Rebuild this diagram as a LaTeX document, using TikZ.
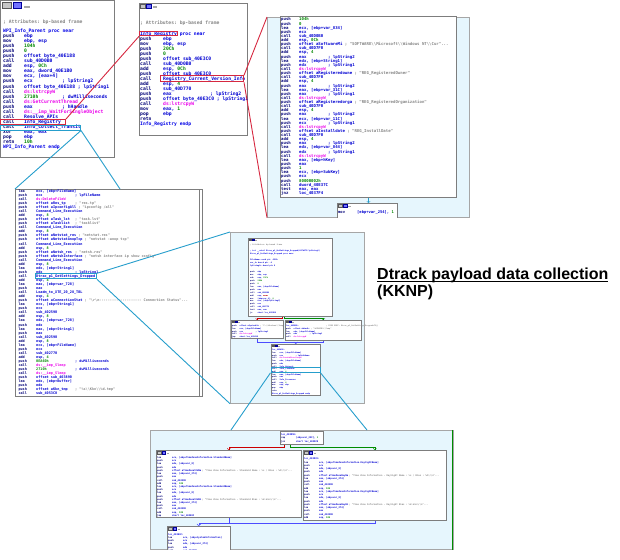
\documentclass[tikz,border=0pt]{standalone}
\usepackage{fontspec}
\setmainfont{Liberation Sans}
\setmonofont{DejaVu Sans Mono}

\definecolor{mnc}{RGB}{0,0,120}
\definecolor{opc}{RGB}{0,0,210}
\definecolor{numc}{RGB}{0,135,0}
\definecolor{impc}{RGB}{235,0,235}
\definecolor{cmc}{RGB}{135,135,135}
\definecolor{lblc}{RGB}{0,0,230}
\definecolor{frame}{RGB}{125,125,125}
\definecolor{graphbg}{RGB}{230,246,253}
\definecolor{zcyan}{RGB}{38,158,204}
\definecolor{zred}{RGB}{214,40,64}
\definecolor{hlred}{RGB}{190,20,30}

\newlength\mnw
\newlength\cmw
\newsavebox\opbox
\newsavebox\tulbox
\newcommand\asmn[1]{\textcolor{numc}{#1}}
\newcommand\asmi[1]{\textcolor{impc}{#1}}
\newcommand\asm[2]{\makebox[\mnw][l]{\textcolor{mnc}{#1}}\textcolor{opc}{#2}}
\newcommand\asmcm[4]{\makebox[\mnw][l]{\textcolor{mnc}{#1}}\sbox\opbox{\textcolor{opc}{#2}}%
  \ifdim\wd\opbox<\cmw\makebox[\cmw][l]{\usebox\opbox}\else\usebox\opbox\ \fi\textcolor{#4}{; #3}}
\newcommand\asmc[3]{\asmcm{#1}{#2}{#3}{opc}}
\newcommand\asms[3]{\asmcm{#1}{#2}{#3}{cmc}}
\newcommand\redhl[1]{{\setlength\fboxsep{0pt}\colorbox{hlred}{\textcolor{white}{#1}}}}
\newcommand\tul[1]{\sbox\tulbox{#1}\rlap{\usebox\tulbox}\rule[-2.8pt]{\wd\tulbox}{1.1pt}}
\newcommand\titlebar[2]{%
  \begin{scope}[shift={(#1.north west)}, scale=#2]
    \filldraw[fill=gray!45, draw=gray!70!black, line width=0.2pt] (1.5,1.5) rectangle (6.5,5);
    \filldraw[fill=blue!55, draw=blue!60!black, line width=0.2pt] (7.5,1.5) rectangle (12.5,5);
    \fill[gray!70] (14,3.5) rectangle (17.5,5);
  \end{scope}}

\begin{document}
\begin{tikzpicture}[x=1pt, y=-1pt,
  win/.style={draw=frame, line width=1.1pt, fill=white, anchor=north west, inner sep=0pt},
  blk/.style={draw=frame, line width=0.6pt, fill=white, anchor=north west, inner sep=0pt},
  graph/.style={draw=gray!70, line width=0.7pt, fill=graphbg, anchor=north west, inner sep=0pt},
  hlr/.style={draw=zred, line width=1pt, anchor=north west, inner sep=0pt},
  hlc/.style={draw=zcyan, line width=1pt, anchor=north west, inner sep=0pt},
  zoomr/.style={draw=zred, line width=0.9pt},
  zoomc/.style={draw=zcyan, line width=0.9pt},
  redge/.style={->, draw=red!80!black, line width=0.4pt},
  gedge/.style={->, draw=green!55!black, line width=0.4pt},
  bedge/.style={draw=blue!70, line width=0.6pt},
  asmtext/.style n args={4}{anchor=north west, inner sep=0pt, align=left,
    font={\ttfamily\bfseries\fontsize{#1}{#2}\selectfont\lineskiplimit=-20pt\setlength\mnw{#3}\setlength\cmw{#4}}},
  heading/.style={anchor=north west, inner sep=0pt, align=left, font=\fontsize{16}{17}\selectfont\bfseries}]

\useasboundingbox (0,0) rectangle (620,559);

% top left: WPI_Info_Parent
\node[win, minimum width=114pt, minimum height=157pt] (wpi) at (0,0) {};
\titlebar{wpi}{1.7}
\node[asmtext={4.7}{5.04}{21pt}{38pt}] (wpiattr) at (3,19.1) {\textcolor{cmc}{; Attributes: bp-based frame}};
\node[asmtext={4.7}{5.04}{21pt}{38pt}] (wpicode) at (3,28.8) {%
\textcolor{lblc}{WPI\_Info\_Parent proc near}\\
\asm{push}{ebp}\\
\asm{mov}{ebp, esp}\\
\asm{push}{\asmn{104h}}\\
\asm{push}{\asmn{0}}\\
\asm{push}{offset byte\_40E188}\\
\asm{call}{sub\_40D0B0}\\
\asm{add}{esp, \asmn{0Ch}}\\
\asm{mov}{eax, dword\_40E1B0}\\
\asm{mov}{ecx, [eax+4]}\\
\asmc{push}{ecx}{lpString2}\\
\asmc{push}{offset byte\_40E188}{lpString1}\\
\asm{call}{\asmi{ds:lstrcpyW}}\\
\asmc{push}{\asmn{2710h}}{dwMilliseconds}\\
\asm{call}{\asmi{ds:GetCurrentThread}}\\
\asmc{push}{eax}{hHandle}\\
\asm{call}{\asmi{ds:\_\_imp\_WaitForSingleObject}}\\
\asm{call}{Resolve\_APIs}\\
\asm{call}{Info\_Registry}\\
\asm{call}{Info\_Collect\_Transit}\\
\asm{xor}{eax, eax}\\
\asm{pop}{ebp}\\
\asm{retn}{\asmn{10h}}\\
\textcolor{lblc}{WPI\_Info\_Parent endp}};
\node[hlr, minimum width=65pt, minimum height=5.3pt] (callreg) at (0,119) {};
\node[hlc, minimum width=80pt, minimum height=5pt] (calltransit) at (0,124.5) {};

% top middle: Info_Registry
\node[win, minimum width=108pt, minimum height=132pt] (reg) at (139,3) {};
\titlebar{reg}{1}
\node[asmtext={4.7}{5.0}{23pt}{47pt}] (regattr) at (140,20.1) {\textcolor{cmc}{; Attributes: bp-based frame}};
\node[asmtext={4.7}{5.0}{23pt}{47pt}] (regcode) at (140,31.1) {%
\textcolor{lblc}{Info\_Registry proc near}\\
\asm{push}{ebp}\\
\asm{mov}{ebp, esp}\\
\asm{push}{\asmn{20Ch}}\\
\asm{push}{\asmn{0}}\\
\asm{push}{offset sub\_40E3C0}\\
\asm{call}{sub\_40D0B0}\\
\asm{add}{esp, \asmn{0Ch}}\\
\asm{push}{offset sub\_40E3C0}\\
\asm{call}{Registry\_Current\_Version\_Info}\\
\asm{add}{esp, \asmn{4}}\\
\asm{call}{sub\_40D770}\\
\asmc{push}{eax}{lpString2}\\
\asmc{push}{offset byte\_40E3C0}{lpString1}\\
\asm{call}{\asmi{ds:lstrcpyW}}\\
\asm{mov}{eax, \asmn{1}}\\
\asm{pop}{ebp}\\
\asm{retn}{}\\
\textcolor{lblc}{Info\_Registry endp}};
\node[hlr, minimum width=38pt, minimum height=4.6pt] (regname) at (139,30.7) {};
\node[hlr, minimum width=83pt, minimum height=6pt] (regcurrent) at (160,75.3) {};

% top right: Registry_Current_Version_Info
\node[graph, minimum width=202pt, minimum height=200pt] (infobg) at (267,17) {};
\node[win, minimum width=176pt, minimum height=181pt] (info) at (280,16) {};
\node[asmtext={4.0}{4.13}{18pt}{29pt}] (infocode) at (281,17.7) {%
\asm{push}{\asmn{104h}}\\
\asm{push}{\asmn{0}}\\
\asm{lea}{ecx, [ebp+var\_834]}\\
\asm{push}{ecx}\\
\asm{call}{sub\_40D0B0}\\
\asm{add}{esp, \asmn{0Ch}}\\
\asms{push}{offset aSoftwareMi}{"SOFTWARE\textbackslash\textbackslash Microsoft\textbackslash\textbackslash Windows NT\textbackslash\textbackslash Cur"...}\\
\asm{call}{sub\_40D7F0}\\
\asm{add}{esp, \asmn{4}}\\
\asmc{push}{eax}{lpString2}\\
\asm{lea}{edx, [ebp+String1]}\\
\asmc{push}{edx}{lpString1}\\
\asm{call}{\asmi{ds:lstrcpyW}}\\
\asms{push}{offset aRegisteredowne}{"REG\_RegisteredOwner"}\\
\asm{call}{sub\_40D7F0}\\
\asm{add}{esp, \asmn{4}}\\
\asmc{push}{eax}{lpString2}\\
\asm{lea}{eax, [ebp+var\_31C]}\\
\asmc{push}{eax}{lpString1}\\
\asm{call}{\asmi{ds:lstrcpyW}}\\
\asms{push}{offset aRegisteredorga}{"REG\_RegisteredOrganization"}\\
\asm{call}{sub\_40D7F0}\\
\asm{add}{esp, \asmn{4}}\\
\asmc{push}{eax}{lpString2}\\
\asm{lea}{ecx, [ebp+var\_11C]}\\
\asmc{push}{ecx}{lpString1}\\
\asm{call}{\asmi{ds:lstrcpyW}}\\
\asms{push}{offset aInstalldate}{"REG\_InstallDate"}\\
\asm{call}{sub\_40D7F0}\\
\asm{add}{esp, \asmn{4}}\\
\asmc{push}{eax}{lpString2}\\
\asm{lea}{edx, [ebp+var\_844]}\\
\asmc{push}{edx}{lpString1}\\
\asm{call}{\asmi{ds:lstrcpyW}}\\
\asm{lea}{eax, [ebp+hKey]}\\
\asm{push}{eax}\\
\asm{push}{\asmn{1}}\\
\asm{lea}{ecx, [ebp+SubKey]}\\
\asm{push}{ecx}\\
\asm{push}{\asmn{80000002h}}\\
\asm{call}{dword\_40E37C}\\
\asm{test}{eax, eax}\\
\asm{jnz}{loc\_4037F4}};
\begin{scope}
\clip (infobg.north west) rectangle (infobg.south east);
\node[blk, minimum width=60pt, minimum height=18pt] (infolow) at (337,203) {};
\titlebar{infolow}{0.8}
\node[asmtext={3.8}{4}{19pt}{20pt}] (infolowcode) at (338,210.2) {\asm{mov}{[ebp+var\_254], \asmn{1}}};
\end{scope}
\draw[->, draw=zcyan, line width=0.5pt] (info.south) -- (info.south |- infolow.north);

% middle left: Info_Collect_Transit
\node[win, minimum width=187pt, minimum height=207pt] (coll) at (15,189) {};
\draw[frame, line width=0.6pt] ([xshift=-4pt]coll.north east) -- ([xshift=-4pt]coll.south east);
\node[asmtext={3.5}{4.05}{17.7pt}{39pt}] (collcode) at (18.3,189.3) {%
\asm{lea}{ecx, [ebp+FileName]}\\
\asmc{push}{ecx}{lpFileName}\\
\asm{call}{\asmi{ds:DeleteFileW}}\\
\asms{push}{offset aRes\_tp}{"res.tp"}\\
\asms{push}{offset aIpconfigAll}{"ipconfig /all"}\\
\asm{call}{Command\_Line\_Execution}\\
\asm{add}{esp, \asmn{8}}\\
\asms{push}{offset aTask\_lst}{"task.lst"}\\
\asms{push}{offset aTasklist}{"tasklist"}\\
\asm{call}{Command\_Line\_Execution}\\
\asm{add}{esp, \asmn{8}}\\
\asms{push}{offset aNetstat\_res}{"netstat.res"}\\
\asms{push}{offset aNetstatAnopTcp}{"netstat -anop tcp"}\\
\asm{call}{Command\_Line\_Execution}\\
\asm{add}{esp, \asmn{8}}\\
\asms{push}{offset aNetsh\_res}{"netsh.res"}\\
\asms{push}{offset aNetshInterface}{"netsh interface ip show config"}\\
\asm{call}{Command\_Line\_Execution}\\
\asm{add}{esp, \asmn{8}}\\
\asm{lea}{edx, [ebp+String1]}\\
\asmc{push}{edx}{lpString1}\\
\asm{call}{Dtrac\_p1\_GetSettings\_Dropped}\\
\asm{add}{esp, \asmn{4}}\\
\asm{lea}{eax, [ebp+var\_728]}\\
\asm{push}{eax}\\
\asm{call}{Loadm\_to\_XTE\_20\_28\_TBL}\\
\asm{add}{esp, \asmn{4}}\\
\asms{push}{offset aConnectionStat}{"\textbackslash r\textbackslash n-------------------- Connection Status"...}\\
\asm{lea}{ecx, [ebp+String1]}\\
\asm{push}{ecx}\\
\asm{call}{sub\_402590}\\
\asm{add}{esp, \asmn{8}}\\
\asm{lea}{edx, [ebp+var\_728]}\\
\asm{push}{edx}\\
\asm{lea}{eax, [ebp+String1]}\\
\asm{push}{eax}\\
\asm{call}{sub\_402590}\\
\asm{add}{esp, \asmn{8}}\\
\asm{lea}{ecx, [ebp+FileName]}\\
\asm{push}{ecx}\\
\asm{call}{sub\_402770}\\
\asm{add}{esp, \asmn{4}}\\
\asmc{push}{\asmn{0EA60h}}{dwMilliseconds}\\
\asm{call}{\asmi{ds:\_\_imp\_Sleep}}\\
\asmc{push}{\asmn{2710h}}{dwMilliseconds}\\
\asm{call}{\asmi{ds:\_\_imp\_Sleep}}\\
\asm{push}{offset sub\_403890}\\
\asm{lea}{edx, [ebp+Buffer]}\\
\asm{push}{edx}\\
\asms{push}{offset aKkn\_tmp}{"\%s\textbackslash\textbackslash Kkn\textbackslash\textbackslash \%d.tmp"}\\
\asm{call}{sub\_4053C0}};
\node[hlc, minimum width=61pt, minimum height=5pt] (calldtrac) at (35,273.3) {};

% middle: Dtrac_p1_GetSettings_Dropped graph
\node[graph, minimum width=134pt, minimum height=171pt] (gsetbg) at (230,232) {};
\node[blk, minimum width=84pt, minimum height=78pt] (gsettop) at (248,238) {};
\titlebar{gsettop}{0.5}
\node[asmtext={1.9}{2.95}{7.5pt}{16pt}] (gsetcode) at (250,244.2) {%
\textcolor{cmc}{; Attributes: bp-based frame}\\
\mbox{}\\
\textcolor{lblc}{; int \_\_cdecl Dtrac\_p1\_GetSettings\_Dropped(LPCWSTR lpString2)}\\
\textcolor{lblc}{Dtrac\_p1\_GetSettings\_Dropped proc near}\\
\mbox{}\\
\textcolor{opc}{FileName= word ptr -258h}\\
\textcolor{opc}{var\_4= dword ptr -4}\\
\textcolor{opc}{lpString2= dword ptr  8}\\
\mbox{}\\
\asm{push}{ebp}\\
\asm{mov}{ebp, esp}\\
\asm{sub}{esp, \asmn{25Ch}}\\
\asm{push}{\asmn{208h}}\\
\asm{push}{\asmn{0}}\\
\asm{lea}{eax, [ebp+FileName]}\\
\asm{push}{eax}\\
\asm{call}{sub\_40D0B0}\\
\asm{add}{esp, \redhl{00Ch}}\\
\asm{mov}{[ebp+var\_4], \asmn{0}}\\
\asm{mov}{ecx, [ebp+lpString2]}\\
\asm{push}{ecx}\\
\asm{call}{sub\_40D770}\\
\asm{test}{eax, eax}\\
\asm{jz}{short loc\_4039B0}};
\node[blk, minimum width=52pt, minimum height=18pt] (gsetleft) at (231,320) {};
\titlebar{gsetleft}{0.5}
\node[asmtext={1.9}{2.8}{7.5pt}{16pt}] (gsetleftcode) at (232,324.7) {%
\asms{push}{offset aSystemDir}{"C:\textbackslash\textbackslash Windows\textbackslash\textbackslash Temp"}\\
\asm{lea}{ecx, [ebp+FileName]}\\
\asmc{push}{ecx}{lpString1}\\
\asm{call}{\asmi{ds:lstrcpyW}}\\
\asm{jmp}{short loc\_403A1B}};
\node[blk, minimum width=76pt, minimum height=20pt] (gsetright) at (285,320) {};
\titlebar{gsetright}{0.5}
\node[asmtext={1.9}{2.8}{7.5pt}{16pt}] (gsetrightcode) at (286,324.7) {%
\makebox[40pt][l]{\textcolor{lblc}{loc\_4039B0:}}\textcolor{cmc}{; CODE XREF: Dtrac\_p1\_GetSettings\_Dropped+7Bj}\\
\asms{push}{offset aWindir}{"\%WINDIR\%\textbackslash\textbackslash Temp"}\\
\asm{lea}{edx, [ebp+FileName]}\\
\asmc{push}{edx}{lpString1}\\
\asm{call}{\asmi{ds:lstrcpyW}}};
\node[blk, minimum width=49pt, minimum height=51pt] (gsetlow) at (271,344) {};
\titlebar{gsetlow}{0.5}
\node[asmtext={1.9}{2.7}{7.5pt}{16pt}] (gsetlowcode) at (272,349.2) {%
\textcolor{lblc}{loc\_403A1B:}\\
\asm{lea}{ecx, [ebp+FileName]}\\
\asmc{push}{ecx}{lpPathName}\\
\asm{call}{\asmi{ds:CreateDirectoryW}}\\
\asm{lea}{edx, [ebp+FileName]}\\
\asm{push}{edx}\\
\asm{call}{Info\_Network}\\
\asm{call}{Info\_TimeZone}\\
\asm{add}{esp, \asmn{4}}\\
\asm{lea}{eax, [ebp+FileName]}\\
\asm{push}{eax}\\
\asm{call}{Info\_Processes}\\
\asm{add}{esp, \asmn{4}}\\
\asm{mov}{esp, ebp}\\
\asm{pop}{ebp}\\
\asm{retn}{}\\
\textcolor{lblc}{Dtrac\_p1\_GetSettings\_Dropped endp}};
\node[hlc, minimum width=49pt, minimum height=5pt] (calltz) at (270.5,366.8) {};
\draw[redge] ([xshift=-8pt]gsettop.south) -- ++(0,1.5) -| (gsetleft.north);
\draw[gedge] ([xshift=-6pt]gsettop.south) -- ++(0,1.5) -| (gsetright.north);
\draw[bedge, ->] (gsetleft.south) |- ([yshift=2pt]gsetlow.north) -- (gsetlow.north);
\draw[bedge] (gsetright.south) |- ([yshift=2pt]gsetlow.north);

% bottom: Info_TimeZone graph
\node[graph, minimum width=303pt, minimum height=119pt] (tzbg) at (150,430) {};
\begin{scope}
\clip (tzbg.north west) rectangle (tzbg.south east);
\node[blk, minimum width=43pt, minimum height=13pt] (tzcheck) at (280,431) {};
\node[asmtext={2.3}{3.3}{15pt}{30pt}] (tzcheckcode) at (281,433.6) {%
\textcolor{lblc}{loc\_403D5E:}\\
\asm{cmp}{[ebp+var\_28C], \asmn{1}}\\
\asm{jnz}{short loc\_403DC0}};
\node[blk, minimum width=145pt, minimum height=67pt] (tzstd) at (156,450) {};
\titlebar{tzstd}{0.75}
\node[asmtext={2.3}{3.22}{15pt}{30pt}] (tzstdcode) at (157,456.4) {%
\asm{lea}{ecx, [ebp+TimeZoneInformation.StandardName]}\\
\asm{push}{ecx}\\
\asm{lea}{edx, [ebp+var\_8]}\\
\asm{push}{edx}\\
\asms{push}{offset aTimeZoneStdNa}{"Time Zone Information - Standard Name : \%s / Bias : \%d\textbackslash r\textbackslash n"...}\\
\asm{lea}{eax, [ebp+var\_274]}\\
\asm{push}{eax}\\
\asm{call}{sub\_4025D0}\\
\asm{add}{esp, \asmn{10h}}\\
\asm{lea}{ecx, [ebp+TimeZoneInformation.StandardName]}\\
\asm{push}{ecx}\\
\asm{lea}{edx, [ebp+var\_8]}\\
\asm{push}{edx}\\
\asms{push}{offset aTimeZoneStdBi}{"Time Zone Information - Standard Bias : \%d min\textbackslash r\textbackslash n"...}\\
\asm{lea}{eax, [ebp+var\_274]}\\
\asm{push}{eax}\\
\asm{call}{sub\_4025D0}\\
\asm{add}{esp, \asmn{10h}}\\
\asm{jmp}{short loc\_403E0C}};
\node[blk, minimum width=143pt, minimum height=70pt] (tzday) at (303,450) {};
\titlebar{tzday}{0.75}
\node[asmtext={2.3}{3.25}{15pt}{30pt}] (tzdaycode) at (304,457.8) {%
\textcolor{lblc}{loc\_403DC0:}\\
\asm{lea}{ecx, [ebp+TimeZoneInformation.DaylightName]}\\
\asm{push}{ecx}\\
\asm{lea}{edx, [ebp+var\_8]}\\
\asm{push}{edx}\\
\asms{push}{offset aTimeZoneDayNa}{"Time Zone Information - Daylight Name : \%s / Bias : \%d\textbackslash r\textbackslash n"...}\\
\asm{lea}{eax, [ebp+var\_274]}\\
\asm{push}{eax}\\
\asm{call}{sub\_4025D0}\\
\asm{add}{esp, \asmn{10h}}\\
\asm{lea}{ecx, [ebp+TimeZoneInformation.DaylightName]}\\
\asm{push}{ecx}\\
\asm{lea}{edx, [ebp+var\_8]}\\
\asm{push}{edx}\\
\asms{push}{offset aTimeZoneDayBi}{"Time Zone Information - Daylight Bias : \%d min\textbackslash r\textbackslash n"...}\\
\asm{lea}{eax, [ebp+var\_274]}\\
\asm{push}{eax}\\
\asm{call}{sub\_4025D0}\\
\asm{add}{esp, \asmn{10h}}};
\node[blk, minimum width=63pt, minimum height=28pt] (tzend) at (167,526) {};
\titlebar{tzend}{0.75}
\node[asmtext={2.3}{3.3}{15pt}{30pt}] (tzendcode) at (168,533.1) {%
\textcolor{lblc}{loc\_403E0C:}\\
\asm{lea}{ecx, [ebp+SystemInformation]}\\
\asm{push}{ecx}\\
\asm{lea}{edx, [ebp+var\_274]}\\
\asm{push}{edx}\\
\asm{call}{sub\_4025D0}};
\end{scope}
\draw[redge] ([xshift=4pt]tzcheck.south west) -- ++(0,3) -| (tzstd.north);
\draw[gedge] ([xshift=10pt]tzcheck.south west) -- ++(0,3) -| (tzday.north);
\draw[bedge, ->] (tzstd.south) |- ([yshift=3pt]tzend.north) -- (tzend.north);
\draw[bedge] (tzday.south) |- ([yshift=3pt]tzend.north);
\draw[green!55!black, line width=0.8pt] ([xshift=-1pt]tzbg.north east) -- ([xshift=-1pt]tzbg.south east);

% heading
\node[heading] (heading) at (377,267.5) {\tul{Dtrack payload data collection}\\(KKNP)};

% zoom connectors
\draw[zoomr] (callreg.north east) -- (regname.south west);
\draw[zoomr] (regcurrent.north east) -- (infobg.north west);
\draw[zoomr] (regcurrent.south east) -- (infobg.south west);
\draw[zoomc] (calltransit.south east) -- (coll.north west);
\draw[zoomc] (calltransit.south east) -- ([xshift=105pt]coll.north west);
\draw[zoomc] (calldtrac.north east) -- (gsetbg.north west);
\draw[zoomc] (calldtrac.south east) -- (gsetbg.south west);
\draw[zoomc] (calltz.south west) -- ([xshift=81pt]tzbg.north west);
\draw[zoomc] (calltz.south east) -- ([xshift=217pt]tzbg.north west);

\end{tikzpicture}
\end{document}
